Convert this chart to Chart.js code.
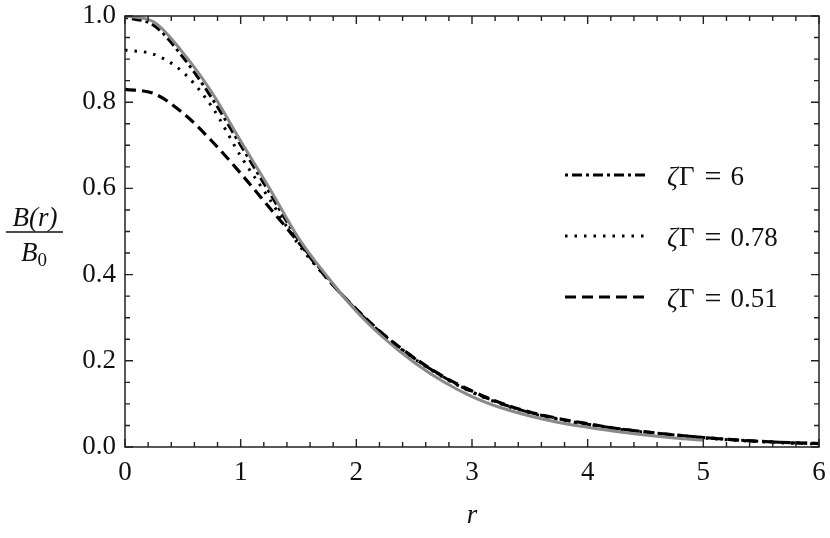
<!DOCTYPE html>
<html lang="en">
<head>
  <meta charset="UTF-8" />
  <title>B(r)/B0 profiles</title>
  <script src="https://cdn.jsdelivr.net/npm/chart.js"></script>
  <style>
    body { margin: 0; background: #fff; }
    canvas { display: block; }
  </style>
</head>
<body>
  <canvas id="profileChart" width="830" height="538"></canvas>

<script>
  // radius grid (r) and field profiles
  const rGrid = [0, 0.25, 0.5, 0.75, 1, 1.25, 1.5, 1.75, 2, 2.25, 2.5, 2.75, 3,
                 3.25, 3.5, 3.75, 4, 4.25, 4.5, 4.75, 5, 5.25, 5.5, 5.75, 6];

  // gray reference curve, stops at r = 5
  const refCurve = [1.0, 0.986, 0.915, 0.823, 0.71, 0.60, 0.485, 0.395, 0.315, 0.25,
                    0.196, 0.152, 0.117, 0.091, 0.072, 0.057, 0.046, 0.036, 0.028, 0.021, 0.016];

  const zg6 = [0.997, 0.978, 0.905, 0.81, 0.70, 0.59, 0.48, 0.393, 0.318, 0.257,
               0.206, 0.163, 0.128, 0.101, 0.080, 0.065, 0.053, 0.043, 0.035, 0.028,
               0.022, 0.017, 0.013, 0.010, 0.008];

  const zg078 = [0.921, 0.911, 0.87, 0.79, 0.675, 0.575, 0.47, 0.39, 0.318, 0.256,
                 0.205, 0.162, 0.127, 0.100, 0.079, 0.064, 0.052, 0.042, 0.034, 0.027,
                 0.021, 0.016, 0.012, 0.009, 0.007];

  const zg051 = [0.83, 0.82, 0.775, 0.71, 0.635, 0.555, 0.475, 0.39, 0.32, 0.258,
                 0.207, 0.164, 0.13, 0.102, 0.081, 0.066, 0.054, 0.043, 0.035, 0.028,
                 0.022, 0.017, 0.013, 0.010, 0.008];

  const seriesLabels = ['6', '0.78', '0.51'];
  const xTicks = [0, 1, 2, 3, 4, 5, 6];
  const yTicks = [0, 0.2, 0.4, 0.6, 0.8, 1.0];

  const FONT = "'Liberation Serif', 'Times New Roman', serif";
  const pts = vals => vals.map((v, i) => ({ x: rGrid[i], y: v }));
  const noPad = s => { s.paddingTop = 0; s.paddingBottom = 0; s.paddingLeft = 0; s.paddingRight = 0; };

  // frame with inward major/minor ticks on all four sides
  const frameTicks = {
    id: 'frameTicks',
    afterDatasetsDraw(chart) {
      const { ctx, chartArea: a, scales: { x, y } } = chart;
      ctx.save();
      ctx.strokeStyle = '#222';
      ctx.lineWidth = 1.5;
      ctx.strokeRect(a.left, a.top, a.right - a.left, a.bottom - a.top);
      ctx.lineWidth = 1.4;
      ctx.beginPath();
      for (let i = 0; i <= 30; i++) {
        const px = x.getPixelForValue(i * 0.2);
        const len = i % 5 === 0 ? 8 : 5;
        ctx.moveTo(px, a.bottom); ctx.lineTo(px, a.bottom - len);
        ctx.moveTo(px, a.top); ctx.lineTo(px, a.top + len);
      }
      for (let i = 0; i <= 20; i++) {
        const py = y.getPixelForValue(i * 0.05);
        const len = i % 4 === 0 ? 8 : 5;
        ctx.moveTo(a.left, py); ctx.lineTo(a.left + len, py);
        ctx.moveTo(a.right, py); ctx.lineTo(a.right - len, py);
      }
      ctx.stroke();
      ctx.restore();
    }
  };

  // legend inside the plot, plus axis titles
  const extras = {
    id: 'extras',
    afterDraw(chart) {
      const { ctx } = chart;
      ctx.save();
      const rows = [175, 236, 297];
      const legendSets = [1, 2, 3];
      legendSets.forEach((dsIdx, k) => {
        const ds = chart.data.datasets[dsIdx];
        const yy = rows[k];
        ctx.strokeStyle = ds.borderColor;
        ctx.lineWidth = ds.borderWidth;
        ctx.lineCap = 'butt';
        ctx.setLineDash(ds.borderDash || []);
        ctx.beginPath();
        ctx.moveTo(565, yy); ctx.lineTo(648, yy);
        ctx.stroke();
        ctx.setLineDash([]);

        ctx.fillStyle = '#111';
        ctx.textBaseline = 'alphabetic';
        ctx.textAlign = 'left';
        let tx = 667;
        const by = yy + 10;
        ctx.font = 'italic 27px ' + FONT;
        ctx.fillText('ζ', tx, by);
        tx += ctx.measureText('ζ').width + 1;
        ctx.font = '27px ' + FONT;
        ctx.fillText('Γ', tx, by);
        tx += ctx.measureText('Γ').width + 10;
        ctx.font = '30px ' + FONT;
        ctx.fillText('=', tx, by + 1);
        tx += ctx.measureText('=').width + 9;
        ctx.font = '27px ' + FONT;
        ctx.fillText(seriesLabels[k], tx, by);
      });

      // x title
      ctx.font = 'italic 27px ' + FONT;
      ctx.textAlign = 'center';
      ctx.fillText('r', 472, 523);

      // y title as a fraction B(r) / B0
      ctx.font = 'italic 27px ' + FONT;
      ctx.fillText('B(r)', 35, 226);
      ctx.strokeStyle = '#111';
      ctx.lineWidth = 1.3;
      ctx.beginPath();
      ctx.moveTo(6, 232); ctx.lineTo(63, 232);
      ctx.stroke();
      ctx.textAlign = 'left';
      const bw = ctx.measureText('B').width;
      ctx.fillText('B', 21, 261);
      ctx.font = '19px ' + FONT;
      ctx.fillText('0', 21 + bw, 266);
      ctx.restore();
    }
  };

  new Chart(document.getElementById('profileChart').getContext('2d'), {
    type: 'line',
    data: {
      datasets: [
        {
          label: 'reference',
          data: pts(refCurve),
          borderColor: '#8a8a8a',
          borderWidth: 3,
          pointRadius: 0,
          cubicInterpolationMode: 'monotone'
        },
        {
          label: 'ζΓ = 6',
          data: pts(zg6),
          borderColor: '#000',
          borderWidth: 3,
          borderDash: [3, 4, 10, 4],
          borderCapStyle: 'butt',
          pointRadius: 0,
          cubicInterpolationMode: 'monotone'
        },
        {
          label: 'ζΓ = 0.78',
          data: pts(zg078),
          borderColor: '#000',
          borderWidth: 3,
          borderDash: [2.5, 7],
          borderCapStyle: 'butt',
          pointRadius: 0,
          cubicInterpolationMode: 'monotone'
        },
        {
          label: 'ζΓ = 0.51',
          data: pts(zg051),
          borderColor: '#000',
          borderWidth: 3.2,
          borderDash: [11, 6],
          borderCapStyle: 'butt',
          pointRadius: 0,
          cubicInterpolationMode: 'monotone'
        }
      ]
    },
    options: {
      responsive: false,
      animation: false,
      devicePixelRatio: 1,
      layout: { padding: { top: 16, right: 11, left: 0, bottom: 0 } },
      plugins: { legend: { display: false }, tooltip: { enabled: false } },
      scales: {
        x: {
          type: 'linear',
          min: 0, max: 6,
          grid: { display: false, drawTicks: false },
          border: { display: false },
          afterBuildTicks: s => { s.ticks = xTicks.map(v => ({ value: v })); },
          afterFit: s => { s.height = 91; noPad(s); },
          ticks: {
            padding: 10,
            color: '#111',
            font: { family: FONT, size: 27 },
            callback: v => String(v)
          }
        },
        y: {
          min: 0, max: 1,
          grid: { display: false, drawTicks: false },
          border: { display: false },
          afterBuildTicks: s => { s.ticks = yTicks.map(v => ({ value: v })); },
          afterFit: s => { s.width = 125; noPad(s); },
          ticks: {
            padding: 9,
            color: '#111',
            font: { family: FONT, size: 27 },
            callback: v => Number(v).toFixed(1)
          }
        }
      }
    },
    plugins: [frameTicks, extras]
  });
</script>
</body>
</html>
